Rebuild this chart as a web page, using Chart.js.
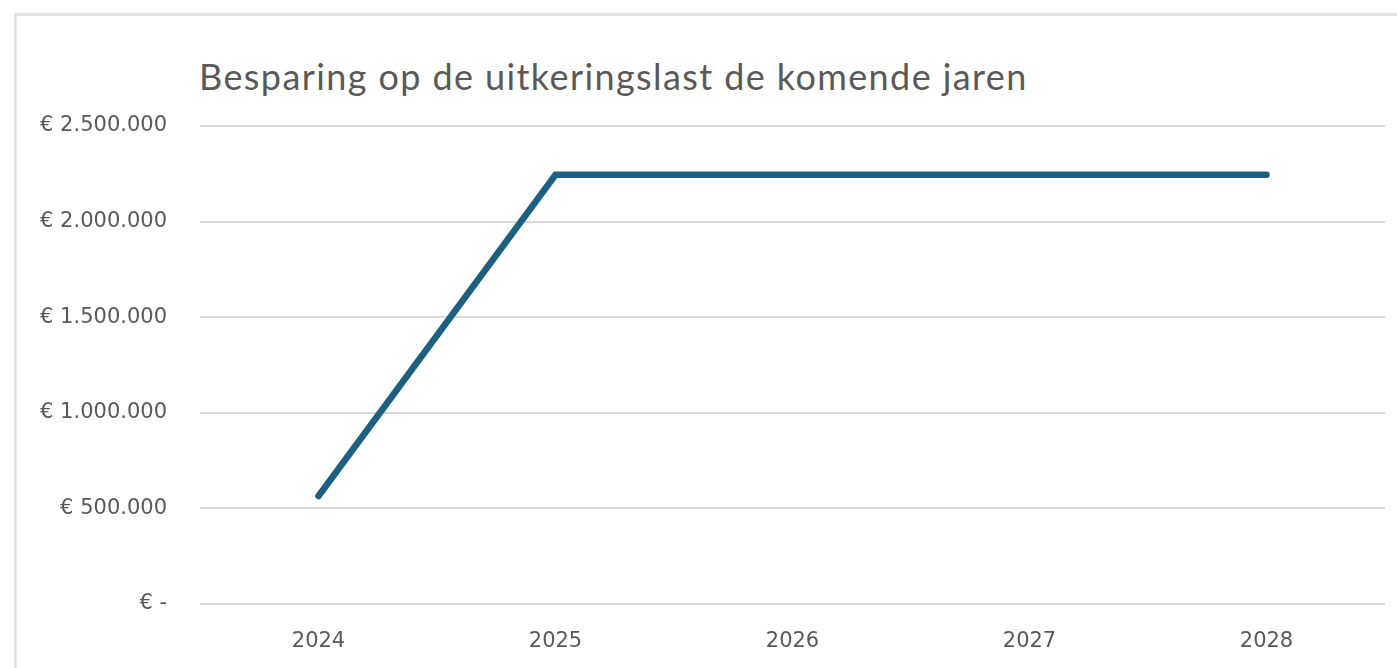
<!DOCTYPE html>
<html lang="nl">
<head>
    <meta charset="UTF-8">
    <title>Besparing op de uitkeringslast</title>
    <script src="https://cdn.jsdelivr.net/npm/chart.js"></script>
    <style>
        html, body {
            margin: 0;
            padding: 0;
            background: #ffffff;
            overflow: hidden;
        }
        .frame {
            position: absolute;
            left: 14px;
            top: 13px;
            width: 1400px;
            height: 700px;
            border: 3px solid #e3e3e3;
            box-sizing: border-box;
        }
        .title {
            position: absolute;
            left: 199px;
            top: 54px;
            margin: 0;
            font-family: Lato, 'Open Sans', sans-serif;
            font-weight: 400;
            font-size: 36px;
            letter-spacing: 1.4px;
            color: #595959;
            white-space: nowrap;
        }
        .chart-box {
            position: absolute;
            left: 0;
            top: 0;
            width: 1397px;
            height: 668px;
        }
    </style>
</head>
<body>
    <div class="frame"></div>
    <h1 class="title">Besparing op de uitkeringslast de komende jaren</h1>
    <div class="chart-box"><canvas id="besparing"></canvas></div>
    <script>
        // data
        const jaren = ['2024', '2025', '2026', '2027', '2028'];
        const besparing = [565000, 2245000, 2245000, 2245000, 2245000];
        const yTicks = [0, 500000, 1000000, 1500000, 2000000, 2500000];

        function euro(v) {
            if (v === 0) return '€ -';
            return '€ ' + v.toString().replace(/\B(?=(\d{3})+(?!\d))/g, '.');
        }

        const tickFont = { family: "'DejaVu Sans', sans-serif", size: 21 };

        new Chart(document.getElementById('besparing'), {
            type: 'line',
            data: {
                labels: jaren,
                datasets: [{
                    label: 'Besparing',
                    data: besparing,
                    borderColor: '#1d5f80',
                    borderWidth: 6.5,
                    borderCapStyle: 'round',
                    borderJoinStyle: 'miter',
                    pointRadius: 0,
                    fill: false,
                    tension: 0
                }]
            },
            options: {
                responsive: true,
                maintainAspectRatio: false,
                animation: false,
                layout: { padding: { top: 126, right: 12, bottom: 0, left: 0 } },
                plugins: {
                    legend: { display: false },
                    title: { display: false },
                    tooltip: { enabled: false }
                },
                scales: {
                    x: {
                        offset: true,
                        grid: { display: false },
                        border: { display: false },
                        ticks: { color: '#595959', font: tickFont, padding: 17 },
                        afterFit: s => { s.height = 64; }
                    },
                    y: {
                        min: 0,
                        max: 2500000,
                        afterBuildTicks: s => { s.ticks = yTicks.map(v => ({ value: v })); },
                        grid: { color: '#d9d9d9', lineWidth: 2, drawTicks: false },
                        border: { display: false },
                        ticks: {
                            color: '#595959',
                            font: tickFont,
                            padding: 33,
                            callback: v => euro(v)
                        },
                        afterFit: s => { s.width = 200; }
                    }
                }
            }
        });
    </script>
</body>
</html>
